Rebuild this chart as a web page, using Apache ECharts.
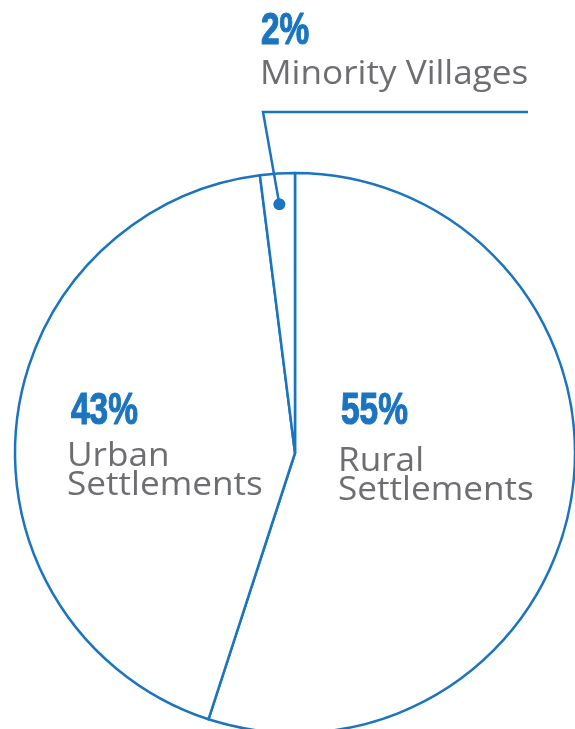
<!DOCTYPE html>
<html><head><meta charset="utf-8">
<script src="https://cdn.jsdelivr.net/npm/echarts@6/dist/echarts.min.js"></script>
<style>html,body{margin:0;padding:0;background:#fff}#c{width:575px;height:729px}</style>
</head><body><div id="c"></div>
<script>
const categories = ['Rural Settlements', 'Urban Settlements', 'Minority Villages'];
const values = [55, 43, 2];
const pctLabels = ['55%', '43%', '2%'];
const nameLines = [['Rural', 'Settlements'], ['Urban', 'Settlements'], ['Minority Villages']];

const BLUE = '#1b74bf', GRAY = '#6d6e71';
const cx = 295, cy = 453, R = 280;
const chart = echarts.init(document.getElementById('c'), null, {renderer: 'canvas'});

// minority mid-angle for dot
const total = values.reduce((a, b) => a + b, 0);
let acc = 0; for (let i = 0; i < 2; i++) acc += values[i];
const midFrac = (acc + values[2] / 2) / total;
const ang = midFrac * 2 * Math.PI; // clockwise from top
const dotR = 0.89 * R;
const dx = cx + Math.sin(ang) * dotR, dy = cy - Math.cos(ang) * dotR;

const pctFont = 'bold 44px "Liberation Sans", Arial, sans-serif';
const nameFont = '33px "Open Sans", sans-serif';
// [pct x, name x, pct y (middle), first name line y, line step]
const labelPos = [[341, 338, 412, 462, 29], [71, 67, 412, 457, 29], [261, 260, 32, 75, 0]];
const graphics = [];
values.forEach((v, i) => {
  const [px, nx, py, ny, step] = labelPos[i];
  graphics.push({type: 'text', x: px, y: py, scaleX: 0.76, z: 100,
    style: {text: pctLabels[i], x: 0, y: 0, font: pctFont, fill: BLUE, stroke: BLUE, lineWidth: 1.2, verticalAlign: 'middle'}});
  nameLines[i].forEach((t, j) => {
    graphics.push({type: 'text', z: 100, x: nx, y: ny + j * step, scaleX: 1.065,
      style: {text: t, x: 0, y: 0, font: nameFont, fill: GRAY, verticalAlign: 'middle'}});
  });
});
graphics.push({type: 'polyline', z: 100, shape: {points: [[dx, dy], [263, 112], [528, 112]]}, style: {stroke: BLUE, lineWidth: 2.5, fill: null}});
graphics.push({type: 'circle', z: 100, shape: {cx: dx, cy: dy, r: 6}, style: {fill: BLUE}});

chart.setOption({
  animation: false,
  series: [{
    type: 'pie', center: [cx, cy], radius: R, startAngle: 90, clockwise: true,
    label: {show: false}, labelLine: {show: false},
    itemStyle: {color: '#fff', borderColor: BLUE, borderWidth: 2.5},
    emphasis: {disabled: true},
    data: categories.map((c, i) => ({name: c, value: values[i]}))
  }],
  graphic: graphics
});
</script></body></html>
